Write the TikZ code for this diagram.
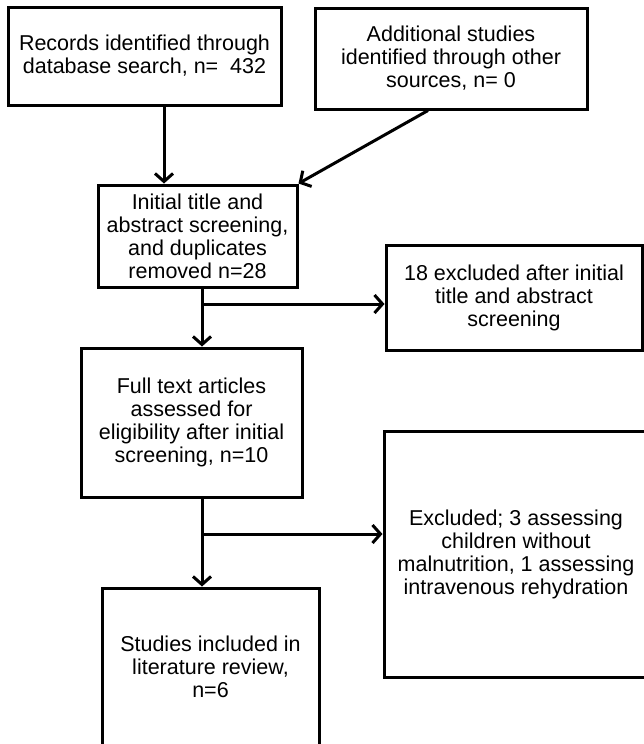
\documentclass[tikz,border=0pt]{standalone}
\usepackage{fontspec}
\setmainfont{Liberation Sans}
\usetikzlibrary{arrows.meta}
\begin{document}
\begin{tikzpicture}[x=1pt,y=-1pt,
  box/.style={draw, line width=3pt, align=center, inner sep=0pt,
    font=\fontsize{21.5}{23}\selectfont},
  arr/.style={line width=3pt, -{Straight Barb[length=8pt,width=18pt]}},
  link/.style={line width=3pt}]
\useasboundingbox (0,0) rectangle (644,744);
\clip (0,0) rectangle (644,744);
\node[box, minimum width=273pt, minimum height=98pt] (b1) at (144.5,56)
  {Records identified through\\database search, n=\ \ 432};
\node[box, minimum width=272pt, minimum height=101pt] (b2) at (451,58.5)
  {Additional studies\\identified through other\\sources, n= 0};
\node[box, minimum width=199pt, minimum height=102pt] (b3) at (197.5,236)
  {Initial title and\\abstract screening,\\and duplicates\\removed n=28};
\node[box, minimum width=256pt, minimum height=105pt] (b4) at (514,297.5)
  {18 excluded after initial\\title and abstract\\screening};
\node[box, minimum width=221pt, minimum height=149pt] (b5) at (191.5,422.5)
  {Full text articles\\assessed for\\eligibility after initial\\screening, n=10};
\node[box, minimum width=264pt, minimum height=246pt] (b6) at (516,554)
  {Excluded; 3 assessing\\children without\\malnutrition, 1 assessing\\intravenous rehydration};
\node[box, minimum width=217pt, minimum height=157pt] (b7) at (210.5,666.5)
  {Studies included in\\literature review,\\n=6};
\coordinate (s1) at (164,0);
\coordinate (s3) at (202,0);
\coordinate (j1) at (202,304);
\coordinate (j2) at (202,534);
\draw[arr] (b1.south -| s1) -- (b3.north -| s1);
\draw[arr] ([xshift=-23pt]b2.south) -- (b3.north east);
\draw[arr] (b3.south -| s3) -- (b5.north -| s3);
\draw[arr] (j1) -- (j1 -| b4.west);
\draw[arr] (b5.south -| s3) -- (b7.north -| s3);
\draw[arr] (j2) -- (j2 -| b6.west);
\end{tikzpicture}
\end{document}
